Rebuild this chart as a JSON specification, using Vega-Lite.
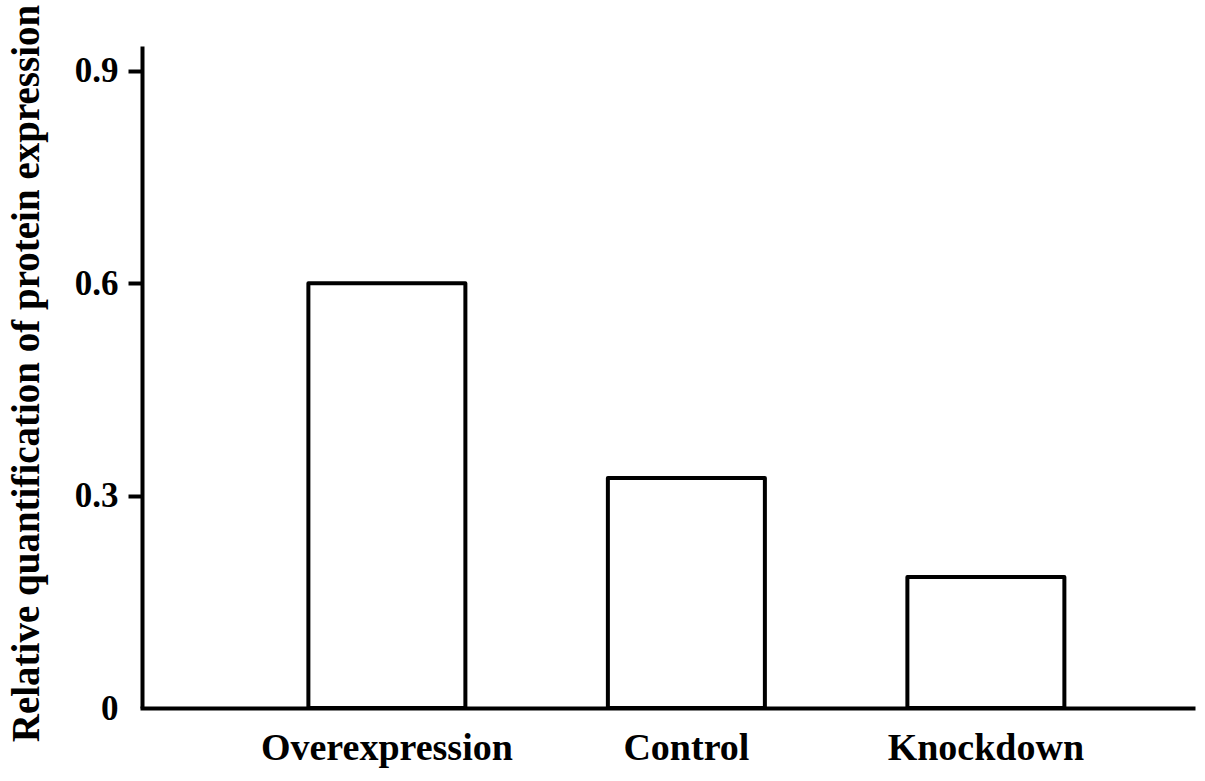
{
  "$schema": "https://vega.github.io/schema/vega-lite/v6.json",
  "autosize": "none",
  "width": 1051,
  "height": 662,
  "padding": {"left": 142, "top": 46, "right": 12, "bottom": 73},
  "background": "white",
  "config": {"view": {"stroke": null}, "font": "Liberation Serif"},
  "data": {
    "values": [
      {"group": "Overexpression", "value": 0.6},
      {"group": "Control", "value": 0.325},
      {"group": "Knockdown", "value": 0.185}
    ]
  },
  "mark": {"type": "bar", "fill": "white", "stroke": "black", "strokeWidth": 4, "strokeJoin": "round"},
  "encoding": {
    "x": {
      "field": "group",
      "type": "nominal",
      "sort": null,
      "scale": {"paddingInner": 0.4758, "paddingOuter": 0.4925, "align": 0.564},
      "axis": {
        "title": null,
        "labelAngle": 0,
        "labelLimit": 0,
        "labelFont": "Liberation Serif",
        "labelFontWeight": "bold",
        "labelFontSize": 38,
        "labelColor": "black",
        "labelPadding": 21,
        "ticks": false,
        "tickSize": 0,
        "domainColor": "black",
        "domainWidth": 4,
        "domainCap": "square"
      }
    },
    "y": {
      "field": "value",
      "type": "quantitative",
      "scale": {"domain": [0, 0.935], "nice": false},
      "axis": {
        "title": "Relative quantification of protein expression",
        "titleFont": "Liberation Serif",
        "titleFontWeight": "bold",
        "titleFontSize": 39,
        "titleColor": "black",
        "titleAngle": -90,
        "titleX": -104,
        "titleY": 327,
        "titleAlign": "center",
        "titleBaseline": "alphabetic",
        "titleLimit": 0,
        "values": [0, 0.3, 0.6, 0.9],
        "format": ".1~f",
        "labelFont": "Liberation Serif",
        "labelFontWeight": "bold",
        "labelFontSize": 35,
        "labelColor": "black",
        "labelPadding": 10,
        "tickSize": 14,
        "tickWidth": 4,
        "tickColor": "black",
        "tickOpacity": {"condition": {"test": "datum.value == 0", "value": 0}, "value": 1},
        "domainColor": "black",
        "domainWidth": 4,
        "grid": false
      }
    }
  }
}
